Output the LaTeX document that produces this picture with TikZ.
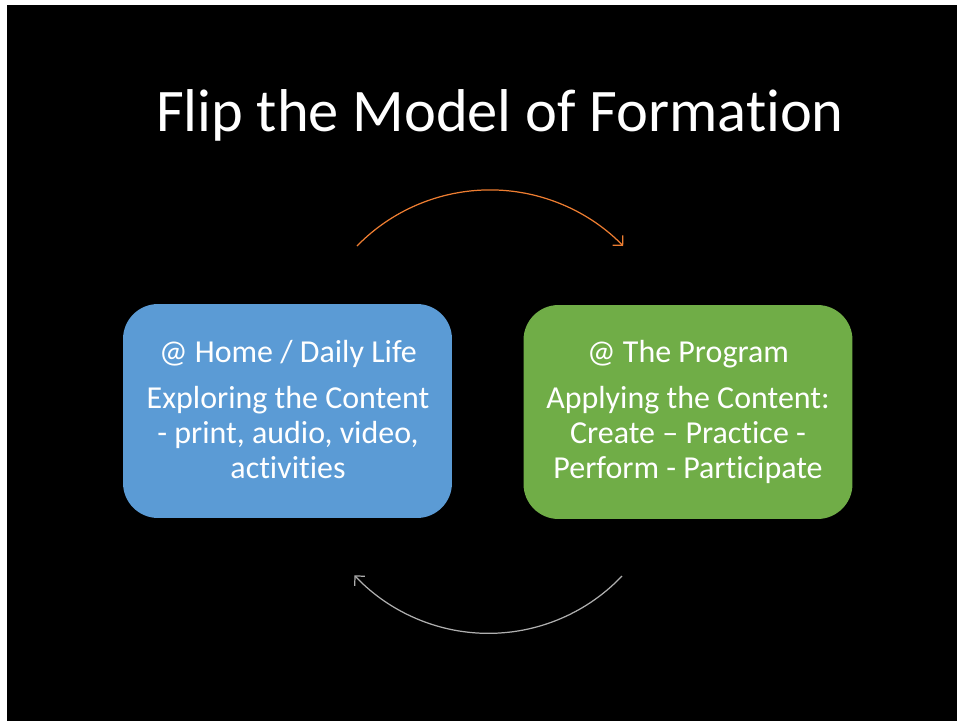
\documentclass[tikz,border=0pt]{standalone}
\usepackage{fontspec}
\setmainfont{Carlito}[Ligatures=NoCommon]
\usepackage{xcolor}
\usepackage{tikz}
\usetikzlibrary{arrows.meta}
\definecolor{figback}{RGB}{0,0,0}
\definecolor{figblue}{RGB}{91,155,213}
\definecolor{figgreen}{RGB}{112,173,71}
\definecolor{figorange}{RGB}{237,125,49}
\definecolor{figgrey}{RGB}{175,175,175}
\tikzset{
  card/.style ={rounded corners=0.7cm, minimum width=6.58cm, minimum height=4.28cm, inner sep=0pt},
  ttl/.style  ={font=\fontsize{34.4}{40}\selectfont, text=white, anchor=base, inner sep=0pt},
  head/.style ={font=\fontsize{18.2}{19.8}\selectfont, text=white, anchor=base, inner sep=0pt},
  body/.style ={font=\fontsize{18.2}{19.8}\selectfont, text=white, anchor=base, align=center, inner sep=0pt},
  loop/.style ={line width=0.7pt, -{Straight Barb[length=4pt,width=8pt]}},
}
\begin{document}
\begin{tikzpicture}[x=0.02cm, y=-0.02cm]
  \useasboundingbox (0,0) rectangle (957,721);
  \fill[white] (0,0) rectangle (957,721);
  \fill[figback] (7,5) rectangle (957,721);
  \node[ttl] (title) at (500,131.7) {Flip the Model of Formation};
  % the two places
  \node[card, fill=figblue] (home) at (287.5,411) {};
  \node[card, fill=figgreen] (prog) at (688,412) {};
  \node[head] (homehead) at (288,362) {@ Home / Daily Life};
  \node[body] (hometext) at (288,478) {Exploring the Content\\- print, audio, video,\\activities};
  \node[head] (proghead) at (688,362) {@ The Program};
  \node[body] (progtext) at (688,478) {Applying the Content:\\Create -- Practice -\\Perform - Participate};
  % cycle arrows
  \coordinate (topfrom) at (357,246);
  \coordinate (botfrom) at (622,576);
  \draw[loop, figorange] (topfrom) arc[start angle=-135.7, end angle=-44.3, radius=186];
  \draw[loop, figgrey] (botfrom) arc[start angle=43.5, end angle=136.8, radius=184];
\end{tikzpicture}
\end{document}
